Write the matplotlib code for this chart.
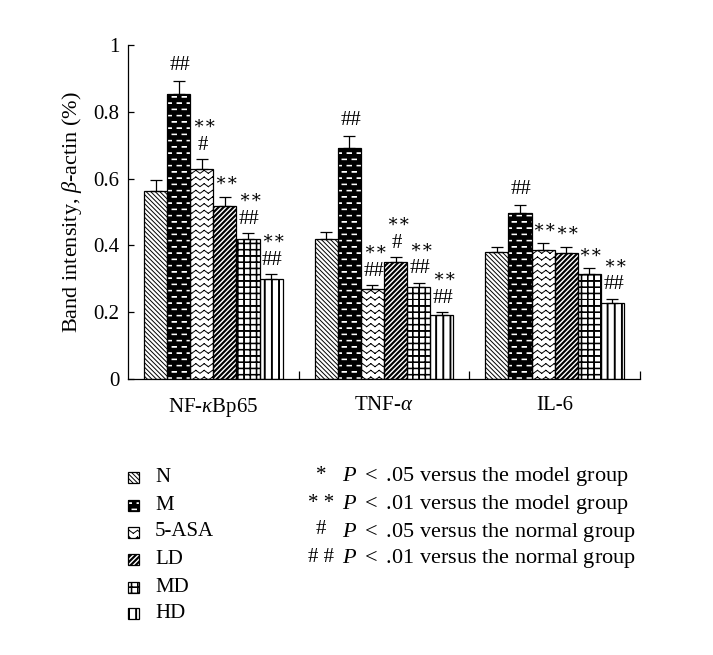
import numpy as np
import matplotlib
matplotlib.use('Agg')
import matplotlib.pyplot as plt
from matplotlib import hatch as mhatch
from matplotlib.path import Path
from matplotlib.patches import Rectangle

# --- data ---
categories = [r'NF-$\kappa$Bp65', r'TNF-$\alpha$', 'IL-6']
groups = ['N', 'M', '5-ASA', 'LD', 'MD', 'HD']

n_vals = [0.563, 0.419, 0.380]
m_vals = [0.853, 0.692, 0.497]
asa_vals = [0.629, 0.269, 0.386]
ld_vals = [0.518, 0.350, 0.377]
md_vals = [0.419, 0.275, 0.314]
hd_vals = [0.299, 0.192, 0.227]

n_err = [0.033, 0.020, 0.015]
m_err = [0.039, 0.036, 0.024]
asa_err = [0.030, 0.012, 0.020]
ld_err = [0.027, 0.015, 0.018]
md_err = [0.018, 0.013, 0.018]
hd_err = [0.015, 0.008, 0.013]

# significance marks, (upper, lower) per bar
n_sig = [('', ''), ('', ''), ('', '')]
m_sig = [('', '##'), ('', '##'), ('', '##')]
asa_sig = [('∗∗', '#'), ('∗∗', '##'), ('', '∗∗')]
ld_sig = [('', '∗∗'), ('∗∗', '#'), ('', '∗∗')]
md_sig = [('∗∗', '##'), ('∗∗', '##'), ('', '∗∗')]
hd_sig = [('∗∗', '##'), ('∗∗', '##'), ('∗∗', '##')]

legend_notes = [('*', r'$P$ $<$ .05 versus the model group'),
                ('* *', r'$P$ $<$ .01 versus the model group'),
                ('#', r'$P$ $<$ .05 versus the normal group'),
                ('# #', r'$P$ $<$ .01 versus the normal group')]


# --- custom hatch patterns (cell = 100 px at dpi 100) ---
class PixHatch(mhatch.HatchPatternBase):
    char = None

    def __init__(self, hatch, density):
        self.v = []
        self.c = []
        if hatch and self.char in hatch:
            self.build()
        self.num_vertices = len(self.v)

    def seg(self, p0, p1):
        self.v += [(p0[0] / 100, p0[1] / 100), (p1[0] / 100, p1[1] / 100)]
        self.c += [Path.MOVETO, Path.LINETO]

    def poly(self, pts):
        pts = list(pts) + [pts[0]]
        self.v += [(x / 100, y / 100) for x, y in pts]
        self.c += [Path.MOVETO] + [Path.LINETO] * (len(pts) - 2) + [Path.CLOSEPOLY]

    def set_vertices_and_codes(self, vertices, codes):
        vertices[:] = self.v
        codes[:] = self.c


class BackLines(PixHatch):
    char = '\\'

    def build(self):
        p = 100 / 22
        for k in range(0, 45):
            c = k * p
            self.seg((c, 0), (c - 100, 100))


class Stripes(PixHatch):
    char = '/'

    def build(self):
        p = 100 / 20
        w = 1.6
        for k in range(-21, 21):
            c = k * p
            self.poly([(c, 0), (c + w, 0), (c + w + 100, 100), (c + 100, 100)])


class Bricks(PixHatch):
    char = '.'

    def build(self):
        rp = 100 / 16
        cp = 100 / 10
        for r in range(16):
            shift = cp / 2 if r % 2 else 0
            y0 = r * rp + rp / 2 - 0.3
            for col in range(-1, 10):
                x0 = col * cp + shift + 2
                self.poly([(x0, y0), (x0 + 4.5, y0), (x0 + 4.5, y0 + 0.6), (x0, y0 + 0.6)])


class ZigZag(PixHatch):
    char = '*'

    def build(self):
        rp = 100 / 15
        cp = 100 / 12
        a = 3.0
        for r in range(-1, 16):
            y0 = r * rp
            for col in range(12):
                x0 = col * cp
                self.seg((x0, y0), (x0 + cp / 2, y0 + a))
                self.seg((x0 + cp / 2, y0 + a), (x0 + cp, y0))


class Grid(PixHatch):
    char = '+'

    def build(self):
        p = 100 / 16
        w = 0.6
        for k in range(16):
            c = k * p
            self.poly([(c, 0), (c + w, 0), (c + w, 100), (c, 100)])
            self.poly([(0, c), (100, c), (100, c + w), (0, c + w)])


class VLines(PixHatch):
    char = '|'

    def build(self):
        p = 100 / 14
        w = 0.9
        for k in range(14):
            c = k * p
            self.poly([(c, 0), (c + w, 0), (c + w, 100), (c, 100)])


mhatch._hatch_types[:] = [BackLines, Stripes, Bricks, ZigZag, Grid, VLines]

plt.rcParams['font.family'] = ['Liberation Serif', 'DejaVu Serif']
plt.rcParams['mathtext.fontset'] = 'custom'
plt.rcParams['mathtext.rm'] = 'Liberation Serif'
plt.rcParams['mathtext.it'] = 'Liberation Serif:italic'
plt.rcParams['hatch.linewidth'] = 0.7

FS = 15
W, H = 713, 655
fig = plt.figure(figsize=(W / 100, H / 100), dpi=100)
ax = fig.add_axes([128 / W, 1 - 379 / H, 512 / W, 334 / H])

series = [(n_vals, n_err, n_sig), (m_vals, m_err, m_sig), (asa_vals, asa_err, asa_sig),
          (ld_vals, ld_err, ld_sig), (md_vals, md_err, md_sig), (hd_vals, hd_err, hd_sig)]
hatches = ['\\', '.', '*', '/', '+', '|']
faces = ['white', 'black', 'white', 'white', 'white', 'white']
hcols = ['black', 'white', 'black', 'black', 'black', 'black']

x = np.arange(len(categories))
bw = 23 / 170
for j, (vals, errs, sigs) in enumerate(series):
    xs = x + (j - 2.5) * bw
    ax.bar(xs, vals, bw, color=faces[j], edgecolor=hcols[j], hatch=hatches[j],
           linewidth=0, zorder=2)
    ax.bar(xs, vals, bw, facecolor='none', edgecolor='black', linewidth=0.9, zorder=3)
    ax.errorbar(xs, vals, yerr=[np.zeros(len(vals)), errs], fmt='none', ecolor='black',
                elinewidth=0.9, capsize=4, capthick=0.9, zorder=3)
    for xi, v, e, (up, low) in zip(xs, vals, errs, sigs):
        top = v + e
        if low:
            star = '∗' in low
            ax.annotate(low, (xi, top), xytext=(1, 10 if up else 11),
                        textcoords='offset points', ha='center', va='center',
                        fontsize=13 if star else FS)
        if up:
            ax.annotate(up, (xi, top), xytext=(2, 25), textcoords='offset points',
                        ha='center', va='center', fontsize=13)

ax.set_xlim(-0.5, 2.5)
ax.set_ylim(0, 1)
ax.set_yticks([0, 0.2, 0.4, 0.6, 0.8, 1])
ax.set_yticklabels(['0', '0.2', '0.4', '0.6', '0.8', '1'])
ax.set_xticks(x)
ax.set_xticklabels(categories)
ax.set_xticks([0.5, 1.5, 2.5], minor=True)
ax.tick_params(axis='x', which='major', length=0, pad=12, labelsize=FS)
ax.tick_params(axis='x', which='minor', direction='in', length=6, width=0.9)
ax.tick_params(axis='y', direction='in', length=4, width=0.9, pad=6, labelsize=FS)
ax.set_ylabel(r'Band intensity, $\beta$-actin (%)', fontsize=16, labelpad=7)
for s in ['top', 'right']:
    ax.spines[s].set_visible(False)
for s in ['left', 'bottom']:
    ax.spines[s].set_linewidth(0.9)

# --- legend (drawn in figure pixels) ---
row_y = [477, 505, 532, 559, 587, 613]
for j, name in enumerate(groups):
    y = row_y[j]
    fig.patches.append(Rectangle((128 / W, 1 - (y + 6) / H), 11 / W, 11 / H,
                                 transform=fig.transFigure, facecolor=faces[j],
                                 edgecolor=hcols[j], hatch=hatches[j], linewidth=0))
    fig.patches.append(Rectangle((128 / W, 1 - (y + 6) / H), 11 / W, 11 / H,
                                 transform=fig.transFigure, facecolor='none',
                                 edgecolor='black', linewidth=0.9))
    fig.text(155 / W, 1 - y / H, name, ha='left', va='center', fontsize=FS)

for j, (sym, txt) in enumerate(legend_notes):
    y = row_y[j]
    fig.text(321 / W, 1 - (y - 2) / H, sym, ha='center', va='center', fontsize=FS)
    fig.text(342 / W, 1 - y / H, txt, ha='left', va='center', fontsize=16)

fig.savefig('out.png', dpi=100)
